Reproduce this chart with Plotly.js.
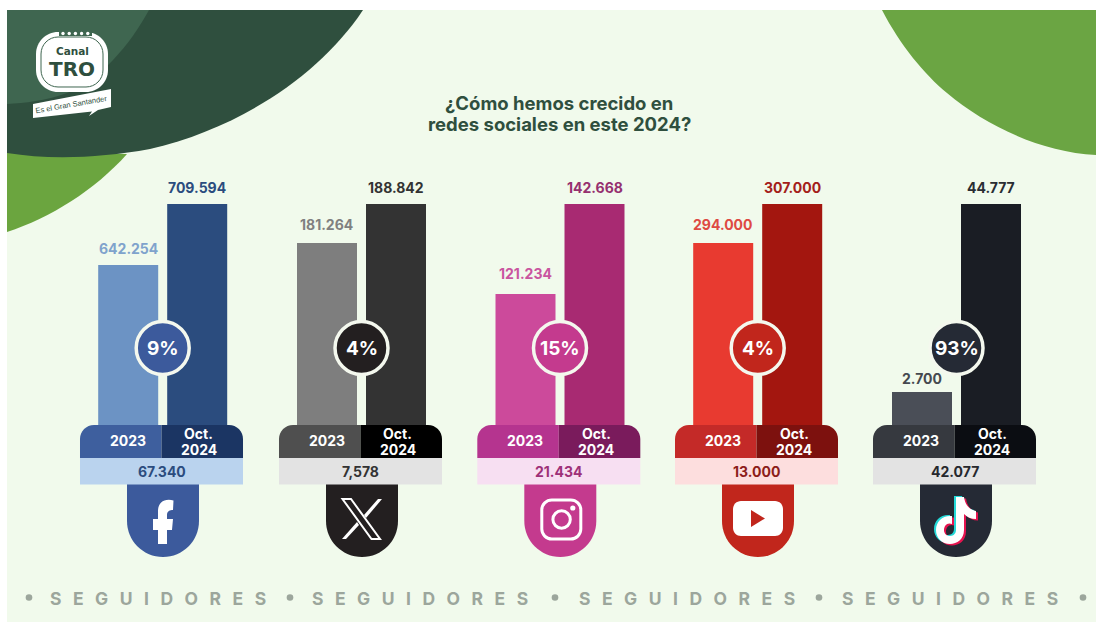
<!DOCTYPE html>
<html><head><meta charset="utf-8">
<script src="https://cdn.plot.ly/plotly-3.0.1.min.js"></script>
<style>html,body{margin:0;padding:0;background:#fff}#chart{width:1096px;height:622px}</style>
</head><body><div id="chart"></div>
<script>
// ---- data ----
const periods = ['2023', 'Oct. 2024'];
const platforms = ['Facebook', 'X', 'Instagram', 'YouTube', 'TikTok'];
const followers2023 = [642254, 181264, 121234, 294000, 2700];
const followers2024 = [709594, 188842, 142668, 307000, 44777];
const labels2023 = ['642.254', '181.264', '121.234', '294.000', '2.700'];
const labels2024 = ['709.594', '188.842', '142.668', '307.000', '44.777'];
const growthLabels = ['9%', '4%', '15%', '4%', '93%'];
const gainLabels = ['67.340', '7,578', '21.434', '13.000', '42.077'];
// each panel of the original has its own truncated value axis
const axisFloors = [465624, 145900, 90036, 233333, -4686];

// ---- styles ----
const color2023 = ['#6C93C4', '#7E7E7E', '#CC4A9B', '#E83A30', '#4A4E57'];
const color2024 = ['#2B4C7E', '#333333', '#A82A72', '#A3160F', '#1A1D24'];
const text2023 = ['#7FA3CC', '#808080', '#C9559F', '#DE4A42', '#45494F'];
const text2024 = ['#2B4C7E', '#333333', '#96306F', '#A3201A', '#2A2D33'];
const head2023 = ['#3E5F9E', '#4F4F4F', '#B5348F', '#C42A28', '#36393F'];
const head2024 = ['#1B3563', '#000000', '#7A1B5C', '#7D110E', '#0B0D12'];
const stripFill = ['#BAD3EE', '#E3E3E3', '#F7DFF2', '#FDDEDE', '#E3E3E3'];
const stripText = ['#2B4C7E', '#333333', '#9E3078', '#8C1D1A', '#26282D'];
const badgeFill = ['#3C5A9C', '#231F20', '#C43A8E', '#C1261C', '#252A35'];
const centers = [162.7, 361.5, 560, 757.7, 956.5];
const headLeft = [80, 279, 477.3, 675, 873];
const labelLift = [6, 8, 10, 8, 3];

const W = 1096, H = 622, BAR_TOP = 204, BAR_BOTTOM = 425;
const FONT = 'Inter, "Open Sans", sans-serif';
const DARK = '#2F4F3E';

const X = x => (x / W).toFixed(5);
const Y = y => (1 - y / H).toFixed(5);
const P = (x, y) => X(x) + ' ' + Y(y);
const K = 0.5523;

function path(d) {               // d written in page pixels: [['M',x,y],['C',...]...]
  return d.map(s => s[0] + ' ' + s.slice(1).reduce((a, v, i, arr) => {
    if (i % 2 === 0) a.push(P(v, arr[i + 1]));
    return a;
  }, []).join(' ')).join(' ');
}
function roundRect(x0, y0, x1, y1, tl, tr, br, bl) {
  const k = K;
  return [
    ['M', x0 + tl, y0], ['L', x1 - tr, y0],
    ['C', x1 - tr + tr * k, y0, x1, y0 + tr - tr * k, x1, y0 + tr],
    ['L', x1, y1 - br],
    ['C', x1, y1 - br + br * k, x1 - br + br * k, y1, x1 - br, y1],
    ['L', x0 + bl, y1],
    ['C', x0 + bl - bl * k, y1, x0, y1 - bl + bl * k, x0, y1 - bl],
    ['L', x0, y0 + tl],
    ['C', x0, y0 + tl - tl * k, x0 + tl - tl * k, y0, x0 + tl, y0],
    ['Z']
  ];
}
function shapePath(d, fill, extra) {
  return Object.assign({ type: 'path', xref: 'paper', yref: 'paper', path: path(d),
    fillcolor: fill, line: { width: 0 }, layer: 'above' }, extra || {});
}
function rect(x0, y0, x1, y1, fill, layer) {
  return { type: 'rect', xref: 'paper', yref: 'paper', x0: x0 / W, x1: x1 / W, y0: 1 - y0 / H, y1: 1 - y1 / H,
    fillcolor: fill, line: { width: 0 }, layer: layer || 'above' };
}
function circle(cx, cy, r, fill, lineColor, lineWidth) {
  return { type: 'circle', xref: 'paper', yref: 'paper', x0: (cx - r) / W, x1: (cx + r) / W,
    y0: 1 - (cy + r) / H, y1: 1 - (cy - r) / H, fillcolor: fill,
    line: { width: lineWidth || 0, color: lineColor || fill }, layer: 'above' };
}
function label(x, y, text, size, color, extra) {
  return Object.assign({ xref: 'paper', yref: 'paper', x: x / W, y: 1 - y / H, text, showarrow: false,
    xanchor: 'center', yanchor: 'middle', align: 'center',
    font: { family: FONT, size, color, weight: 700 } }, extra || {});
}

const shapes = [];
const annotations = [];
const data = [];
const layout = {
  width: W, height: H, autosize: false, showlegend: false, margin: { l: 0, r: 0, t: 0, b: 0, pad: 0 },
  paper_bgcolor: '#FFFFFF', plot_bgcolor: 'rgba(0,0,0,0)', bargap: 9 / 69, hovermode: false,
  shapes, annotations
};

// background
shapes.push(rect(7, 10, W, H, '#F1FAEC', 'below'));
shapes.push(shapePath([['M', 7, 150], ['L', 127, 154], ['C', 95, 190, 50, 218, 7, 232], ['Z']], '#6BA53F', { layer: 'below' }));
shapes.push(shapePath([['M', 7, 10], ['L', 363, 10], ['C', 320, 75, 240, 128, 150, 149], ['C', 100, 158, 50, 160, 7, 153], ['Z']], DARK, { layer: 'below' }));
shapes.push(shapePath([['M', 7, 10], ['L', 149, 10], ['C', 130, 45, 100, 80, 67, 93], ['C', 45, 101, 25, 103, 7, 104], ['Z']], '#3F6650', { layer: 'below' }));
shapes.push(shapePath([['M', 882, 10], ['C', 900, 45, 925, 75, 947, 93], ['C', 985, 125, 1040, 152, 1096, 155], ['L', 1096, 10], ['Z']], '#6BA543', { layer: 'below' }));

// logo
shapes.push(shapePath(roundRect(36, 32, 108, 92, 22, 22, 22, 22), '#FFFFFF'));
shapes.push(shapePath(roundRect(41, 37, 103, 87, 17, 17, 17, 17), '#FFFFFF', { line: { width: 1, color: '#3F6650' } }));
shapes.push(rect(59, 30, 92, 36, '#3F6650'));
[63, 69.2, 75.4, 81.6, 87.8].forEach(x => shapes.push(circle(x, 33.5, 1.7, '#FFFFFF')));
shapes.push(shapePath([['M', 33, 104], ['L', 111, 89], ['L', 111, 107], ['L', 98, 110], ['L', 89, 116], ['L', 92, 111.5], ['L', 33, 118], ['Z']], '#FFFFFF'));
annotations.push(label(72, 50.5, 'Canal', 10, DARK, { font: { family: '"DejaVu Sans", sans-serif', size: 10.5, color: DARK, weight: 700 } }));
annotations.push(label(72, 69, 'TRO', 20, DARK, { font: { family: '"DejaVu Sans", sans-serif', size: 20, color: DARK, weight: 700 } }));
annotations.push(label(71.5, 104, 'Es el Gran Santander', 7.5, DARK,
  { textangle: -10, font: { family: '"Liberation Sans", sans-serif', size: 7.5, color: DARK, weight: 400 } }));

// title
annotations.push(label(559, 103, '¿Cómo hemos crecido en', 18.5, DARK));
annotations.push(label(559, 124, 'redes sociales en este 2024?', 18.5, DARK));

// footer
const wordCenters = [157.5, 419.5, 686.5, 949.5];
const dotCenters = [29, 290, 555, 819, 1083];
const WORD = 'SEGUIDORES'.split('').join('\u2002\u2009');
wordCenters.forEach(x => annotations.push(label(x, 598, WORD, 17.5, '#9CA69C')));
dotCenters.forEach(x => shapes.push(circle(x, 597.5, 3.3, '#9CA69C')));

// icons
const white = '#FFFFFF';
function iconF(c) {
  const o = c - 163;
  shapes.push(shapePath([['M', 153 + o, 519], ['L', 153 + o, 530], ['L', 158 + o, 530], ['L', 158 + o, 544],
    ['L', 167 + o, 544], ['L', 167 + o, 530], ['L', 172 + o, 530], ['L', 173 + o, 519], ['L', 167 + o, 519],
    ['L', 167 + o, 515], ['C', 167 + o, 511, 170 + o, 510, 173 + o, 510], ['L', 173.5 + o, 500.5],
    ['C', 164 + o, 498, 158 + o, 503, 158 + o, 511], ['L', 158 + o, 519], ['Z']], white));
}
function iconX(c) {
  const o = c - 363;
  shapes.push(shapePath([['M', 343.5 + o, 499], ['L', 352 + o, 499], ['L', 381 + o, 539], ['L', 372.5 + o, 539], ['Z']], 'rgba(0,0,0,0)',
    { line: { width: 2, color: white } }));
  shapes.push(shapePath([['M', 379 + o, 499], ['L', 365 + o, 515], ['L', 367 + o, 518], ['L', 383 + o, 499], ['Z']], white));
  shapes.push(shapePath([['M', 343 + o, 539], ['L', 358 + o, 522], ['L', 360 + o, 525], ['L', 347 + o, 539], ['Z']], white));
}
function iconInsta(c) {
  const o = c + 1;
  shapes.push(shapePath(roundRect(o - 19.5, 500, o + 19.5, 539, 10, 10, 10, 10), 'rgba(0,0,0,0)', { line: { width: 3, color: white } }));
  shapes.push(circle(o + 0.3, 519.5, 8.7, 'rgba(0,0,0,0)', white, 3));
  shapes.push(circle(o + 11.5, 508, 2.6, white));
}
function iconYT(c) {
  const o = c;
  shapes.push(shapePath(roundRect(o - 25, 501, o + 25, 536, 8, 8, 8, 8), white));
  shapes.push(shapePath([['M', o - 7, 510], ['L', o + 7, 518.5], ['L', o - 7, 527], ['Z']], '#C1261C'));
}
function iconTT(c0) {
  const c = c0 - 3;
  const note = (dx, dy, col) => shapePath([
    ['M', c + 3 + dx, 497 + dy], ['L', c + 11 + dx, 497 + dy], ['C', c + 12 + dx, 505 + dy, c + 17 + dx, 510 + dy, c + 23 + dx, 511 + dy],
    ['L', c + 23 + dx, 519 + dy], ['C', c + 18 + dx, 519 + dy, c + 14 + dx, 517 + dy, c + 11 + dx, 514 + dy],
    ['L', c + 11 + dx, 530 + dy], ['C', c + 11 + dx, 539 + dy, c + 4 + dx, 544 + dy, c - 3 + dx, 544 + dy],
    ['C', c - 11 + dx, 544 + dy, c - 17 + dx, 538 + dy, c - 17 + dx, 530 + dy],
    ['C', c - 17 + dx, 521 + dy, c - 10 + dx, 515 + dy, c - 1 + dx, 516 + dy],
    ['L', c - 1 + dx, 524 + dy], ['C', c - 6 + dx, 522 + dy, c - 9 + dx, 526 + dy, c - 9 + dx, 530 + dy],
    ['C', c - 9 + dx, 534 + dy, c - 6 + dx, 536 + dy, c - 3 + dx, 536 + dy],
    ['C', c + 1 + dx, 536 + dy, c + 3 + dx, 533 + dy, c + 3 + dx, 530 + dy], ['Z']], col);
  shapes.push(note(-2, -1, '#25D9D8'));
  shapes.push(note(2, 1.5, '#E5134F'));
  shapes.push(note(0, 0, white));
}
const icons = [iconF, iconX, iconInsta, iconYT, iconTT];

platforms.forEach((name, i) => {
  const n = i === 0 ? '' : String(i + 1);
  const c = centers[i], floor = axisFloors[i];
  const values = [followers2023[i], followers2024[i]];
  data.push({
    type: 'bar', name, x: periods, y: values.map(v => v - floor), base: [floor, floor],
    xaxis: 'x' + n, yaxis: 'y' + n,
    marker: { color: [color2023[i], color2024[i]], line: { width: 0 } }
  });
  layout['xaxis' + n] = { domain: [(c - 69) / W, (c + 69) / W], type: 'category', visible: false,
    range: [-0.5, 1.5], fixedrange: true, anchor: 'y' + n, categoryorder: 'array', categoryarray: periods };
  layout['yaxis' + n] = { domain: [1 - BAR_BOTTOM / H, 1 - BAR_TOP / H], visible: false,
    range: [floor, followers2024[i]], fixedrange: true, anchor: 'x' + n };

  // value labels above the bars (category position 0 = 2023, 1 = Oct. 2024)
  [[0, followers2023[i], labels2023[i], text2023[i], labelLift[i]],
   [1, followers2024[i], labels2024[i], text2024[i], 6]].forEach(([k, v, t, col, lift]) => {
    annotations.push({ xref: 'x' + n, yref: 'y' + n, x: k, y: v, text: t, showarrow: false,
      xanchor: 'center', yanchor: 'bottom', yshift: lift, font: { family: FONT, size: 14, color: col, weight: 700 } });
  });

  // header, strip and icon tab
  const L = headLeft[i], R = L + 163, mid = L + 81.5;
  const pillL = L + 47, pillR = L + 119;
  shapes.push(shapePath(roundRect(pillL, 484, pillR, 557, 0, 0, 36, 36), badgeFill[i]));
  shapes.push(shapePath(roundRect(L, 425, mid, 458, 14, 0, 0, 0), head2023[i]));
  shapes.push(shapePath(roundRect(mid, 425, R, 458, 0, 14, 0, 0), head2024[i]));
  shapes.push(rect(L, 458, R, 484.5, stripFill[i]));
  annotations.push(label(L + 48, 440.5, periods[0], 14, '#FFFFFF'));
  annotations.push(label(L + 119, 433.5, 'Oct.', 14, '#FFFFFF'));
  annotations.push(label(L + 119, 449, '2024', 14, '#FFFFFF'));
  annotations.push(label(mid, 471.5, gainLabels[i], 14, stripText[i]));
  icons[i](pillL + 36);

  // growth badge
  shapes.push(circle(c, 348, 26.5, badgeFill[i], '#F4F8EE', 3.5));
  annotations.push(label(c, 348, growthLabels[i], 19, '#FFFFFF'));
});

Plotly.newPlot('chart', data, layout, { displayModeBar: false, staticPlot: true });
</script></body></html>
